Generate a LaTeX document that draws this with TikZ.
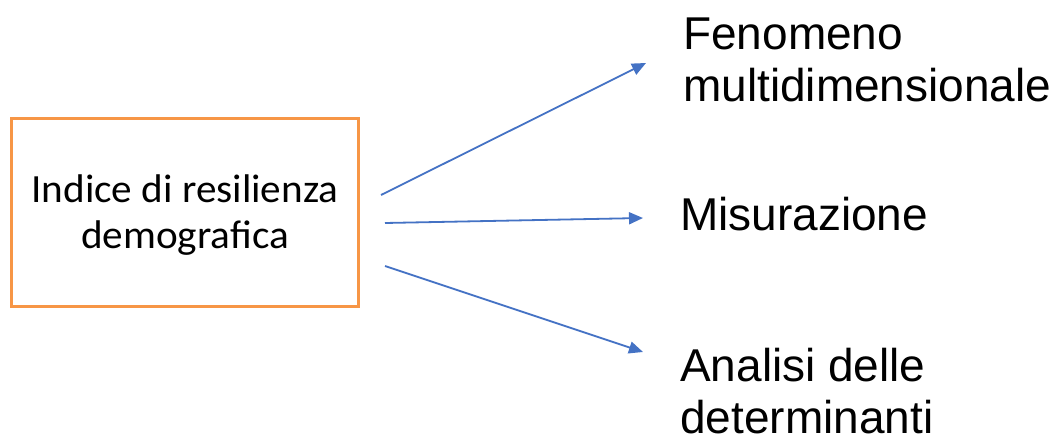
\documentclass[tikz,border=0pt]{standalone}
\usepackage{fontspec}
\usetikzlibrary{arrows.meta}
\newfontfamily\boxfont[FakeStretch=1.03]{Carlito}
\newfontfamily\labfont{Liberation Sans}
\definecolor{boxorange}{HTML}{F79646}
\definecolor{arrowblue}{HTML}{4472C4}
\tikzset{
  mainbox/.style={draw=boxorange, line width=3pt, minimum width=347pt, minimum height=188pt,
    inner sep=0pt},
  boxtext/.style={anchor=base, inner sep=0pt, align=center, font=\boxfont\fontsize{40}{46}\selectfont},
  lab/.style={anchor=base west, inner sep=0pt, align=left, font=\labfont\fontsize{46}{52}\selectfont},
  conn/.style={draw=arrowblue, line width=1.8pt, -{Triangle[length=14pt,width=12pt]}}
}
\begin{document}
\begin{tikzpicture}[x=1pt,y=-1pt]
\useasboundingbox (0,0) rectangle (1061,441);
\node[mainbox] (box) at (185,212.5) {};
\node[boxtext] (boxlabel) at (185,248) {Indice di resilienza\\demografica};
\node[lab] (l1) at (683,102) {Fenomeno\\multidimensionale};
\node[lab] (l2) at (680,230) {Misurazione};
\node[lab] (l3) at (680,433) {Analisi delle\\determinanti};
\coordinate (s1) at (381,195);
\coordinate (e1) at (646,63);
\coordinate (s2) at (385,223);
\coordinate (e2) at (643,218);
\coordinate (s3) at (385,266);
\coordinate (e3) at (643,352);
\draw[conn] (s1) -- (e1);
\draw[conn] (s2) -- (e2);
\draw[conn] (s3) -- (e3);
\end{tikzpicture}
\end{document}
